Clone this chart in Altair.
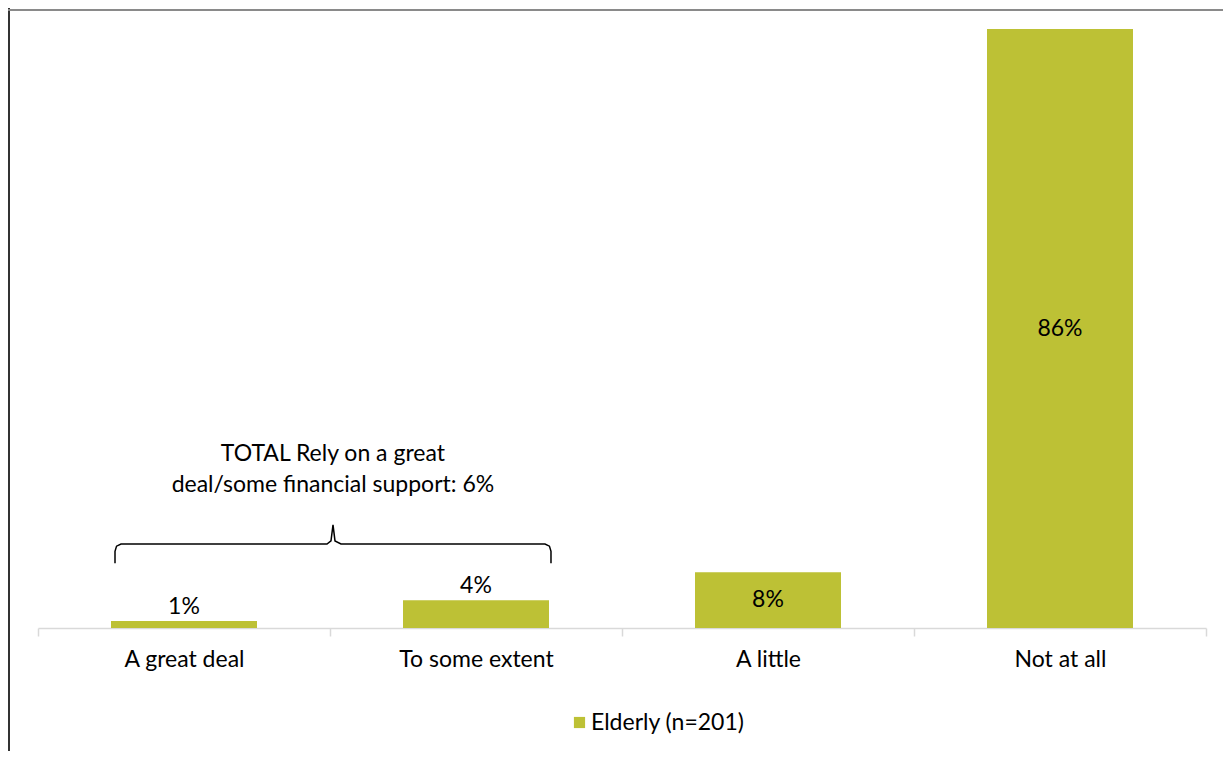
import altair as alt
import pandas as pd

categories = ["A great deal", "To some extent", "A little", "Not at all"]
values = [1, 4, 8, 86]
value_labels = ["1%", "4%", "8%", "86%"]
series_name = "Elderly (n=201)"

annotation_lines = ["TOTAL Rely on a great", "deal/some financial support: 6%"]
annotation_u = [1.01]
annotation_v = [24.0]

# brace outline in (category units, percent) coordinates
brace_u = [0.2637, 0.2637, 0.2690, 0.2842, 0.9897, 1.0034, 1.0103, 1.0171, 1.0377, 1.7363, 1.7515, 1.7568, 1.7568]
brace_v = [9.3, 11.0, 11.75, 12.06, 12.06, 12.5, 14.8, 12.5, 12.06, 12.06, 11.75, 11.0, 9.3]

FONT = "Lato"
BAR = "#BDC135"
FS = 23

df = pd.DataFrame({"category": categories, "value": values, "label": value_labels,
                   "series": [series_name] * len(categories)})
brace_df = pd.DataFrame({"u": brace_u, "v": brace_v, "i": list(range(len(brace_u)))})
annot_df = pd.DataFrame({"u": annotation_u, "v": annotation_v, "t": [annotation_lines]})

W, H = 1168, 599
PB = 123

band = alt.Scale(paddingInner=0, paddingOuter=0)
x = alt.X("category:N", sort=categories, scale=band,
          axis=alt.Axis(title=None, labelAngle=0, labelFontSize=FS, labelFont=FONT,
                        labelColor="#000000", domainColor="#d9d9d9", domainWidth=1.5,
                        tickColor="#d9d9d9", tickWidth=1.5, tickSize=8, tickBand="extent",
                        labelPadding=12, grid=False))
y = alt.Y("value:Q", scale=alt.Scale(domain=[0, 86], nice=False, zero=True), axis=None)

bars = alt.Chart(df).mark_bar(width=alt.RelativeBandSize(0.5)).encode(
    x=x, y=y,
    color=alt.Color("series:N", scale=alt.Scale(range=[BAR]),
                    legend=alt.Legend(title=None, orient="none", legendX=530, legendY=682,
                                      symbolType="square", symbolSize=125, symbolStrokeWidth=0,
                                      labelFont=FONT, labelFontSize=FS, labelColor="#000000",
                                      labelOffset=0)))

inside = alt.Chart(df).transform_filter("datum.value > 5").transform_calculate(
    mid="datum.value / 2").mark_text(font=FONT, fontSize=FS, color="#000000", baseline="middle").encode(
    x=x, y=alt.Y("mid:Q"), text="label:N")

above = alt.Chart(df).transform_filter("datum.value <= 5").mark_text(
    font=FONT, fontSize=FS, color="#000000", baseline="alphabetic", dy=-7).encode(
    x=x, y=alt.Y("value:Q"), text="label:N")

ux = alt.Scale(domain=[0, 4], nice=False, zero=False)
brace = alt.Chart(brace_df).mark_line(color="#000000", strokeWidth=1.5).encode(
    x=alt.X("u:Q", scale=ux, axis=None), y=alt.Y("v:Q"), order="i:Q")

annot = alt.Chart(annot_df).mark_text(font=FONT, fontSize=FS, color="#000000",
                                      baseline="alphabetic", align="center", lineHeight=31).encode(
    x=alt.X("u:Q", scale=ux, axis=None), y=alt.Y("v:Q"), text="t")

frame_left = alt.Chart(df).mark_rule(color="#333333", strokeWidth=2).encode(
    x=alt.value(-29), y=alt.value(-21), y2=alt.value(H + PB))
frame_top = alt.Chart(df).mark_rule(color="#8a8a8a", strokeWidth=2).encode(
    x=alt.value(-30), x2=alt.value(W + 17), y=alt.value(-19), y2=alt.value(-19))

main = alt.layer(bars, inside, above)
notes = alt.layer(brace, annot)

chart = alt.layer(main, notes, frame_left, frame_top).resolve_scale(
    x="independent").properties(
    width=W, height=H,
    autosize=alt.AutoSizeParams(type="none"),
    padding={"left": 30, "top": 21, "right": 17, "bottom": PB},
).configure_view(stroke=None)

chart.save("out.html", embed_options={"renderer": "svg", "actions": False})
